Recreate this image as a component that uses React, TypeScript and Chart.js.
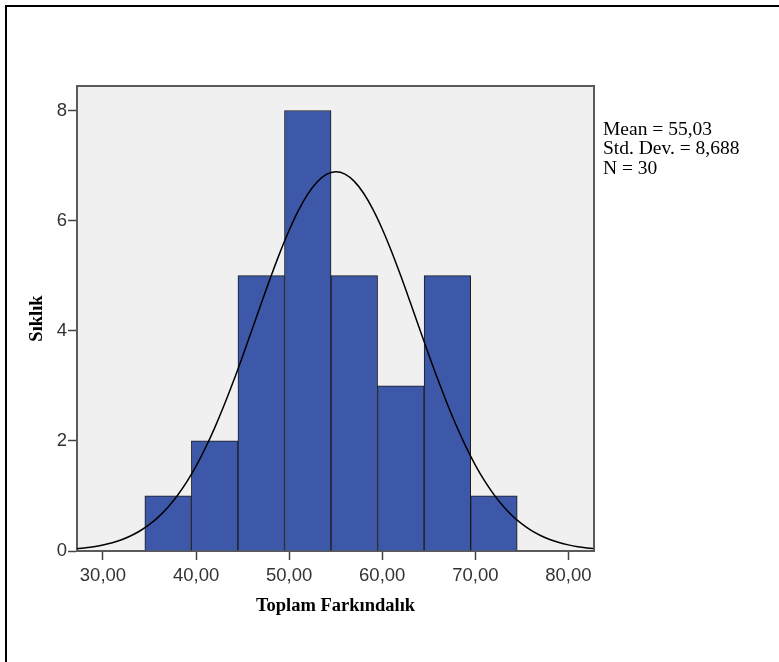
import React, { useEffect, useRef } from "react";
import { Chart, registerables } from "chart.js";

Chart.register(...registerables);

// Histogram bins (34.5–39.5, 39.5–44.5, ...) — centers and counts
const BIN_CENTERS = [37, 42, 47, 52, 57, 62, 67, 72];
const BIN_COUNTS = [1, 2, 5, 8, 5, 3, 5, 1];

// Normal curve (Mean 55,03, SD 8,688, N 30)
const CURVE_X = [
  27, 28, 29, 30, 31, 32, 33, 34, 35, 36, 37, 38, 39, 40, 41, 42, 43, 44, 45,
  46, 47, 48, 49, 50, 51, 52, 53, 54, 55, 56, 57, 58, 59, 60, 61, 62, 63, 64,
  65, 66, 67, 68, 69, 70, 71, 72, 73, 74, 75, 76, 77, 78, 79, 80, 81, 82, 83,
];
const CURVE_Y = [
  0.038, 0.055, 0.077, 0.109, 0.15, 0.205, 0.277, 0.368, 0.483, 0.625, 0.8,
  1.009, 1.256, 1.542, 1.87, 2.237, 2.641, 3.077, 3.538, 4.014, 4.494, 4.965,
  5.414, 5.825, 6.186, 6.482, 6.703, 6.84, 6.888, 6.845, 6.713, 6.497, 6.205,
  5.849, 5.44, 4.993, 4.522, 4.042, 3.566, 3.104, 2.666, 2.26, 1.891, 1.561,
  1.272, 1.023, 0.811, 0.635, 0.491, 0.374, 0.282, 0.209, 0.153, 0.111, 0.079,
  0.056, 0.039,
];

const X_TICKS = [30, 40, 50, 60, 70, 80];
const X_TICK_LABELS = ["30,00", "40,00", "50,00", "60,00", "70,00", "80,00"];
const Y_TICKS = [0, 2, 4, 6, 8];
const Y_TICK_LABELS = ["0", "2", "4", "6", "8"];

const X_MIN = 27.21;
const X_MAX = 82.75;
const Y_MAX = 8.445;

const X_TITLE = "Toplam Farkındalık";
const Y_TITLE = "Sıklık";
const STATS = ["Mean = 55,03", "Std. Dev. = 8,688", "N = 30"];

const plotFrame = {
  id: "plotFrame",
  beforeDraw(chart: any) {
    const { ctx, chartArea } = chart;
    const { left, top, right, bottom } = chartArea;
    ctx.save();
    ctx.fillStyle = "#F0F0F0";
    ctx.fillRect(left, top, right - left, bottom - top);
    ctx.restore();
  },
  afterDraw(chart: any) {
    const { ctx, chartArea } = chart;
    const { left, top, right, bottom } = chartArea;
    ctx.save();
    ctx.strokeStyle = "#5a5a5a";
    ctx.lineWidth = 2;
    ctx.beginPath();
    ctx.moveTo(left, top);
    ctx.lineTo(right, top);
    ctx.lineTo(right, bottom);
    ctx.stroke();
    ctx.restore();
  },
};

export default function App() {
  const canvasRef = useRef<HTMLCanvasElement | null>(null);

  useEffect(() => {
    const canvas = canvasRef.current;
    if (!canvas) return;
    const tickFont = { family: "'Liberation Sans', Arial, sans-serif", size: 18.5 };
    const titleFont = {
      family: "'Liberation Serif', 'Times New Roman', serif",
      size: 18.5,
      weight: "bold" as const,
      lineHeight: 1,
    };
    const chart = new Chart(canvas, {
      type: "bar",
      data: {
        datasets: [
          {
            type: "line" as const,
            data: CURVE_X.map((x, i) => ({ x, y: CURVE_Y[i] })),
            borderColor: "#000000",
            borderWidth: 1.5,
            pointRadius: 0,
            tension: 0.4,
            fill: false,
            order: 0,
            clip: 0 as any,
          },
          {
            type: "bar" as const,
            data: BIN_CENTERS.map((x, i) => ({ x, y: BIN_COUNTS[i] })),
            backgroundColor: "#3D57A9",
            borderColor: "#1c1c1c",
            borderWidth: 1,
            barPercentage: 1,
            categoryPercentage: 1,
            grouped: false,
            order: 1,
          } as any,
        ],
      },
      options: {
        animation: false,
        responsive: false,
        maintainAspectRatio: false,
        devicePixelRatio: 1,
        layout: { padding: { left: 0, top: 86, right: 185, bottom: 0 } },
        plugins: {
          legend: { display: false },
          tooltip: { enabled: false },
          title: { display: false },
        },
        scales: {
          x: {
            type: "linear",
            min: X_MIN,
            max: X_MAX,
            offset: false,
            afterBuildTicks: (s: any) => {
              s.ticks = X_TICKS.map((v) => ({ value: v }));
            },
            afterFit: (s: any) => {
              s.height = 111;
            },
            ticks: {
              font: tickFont,
              color: "#333333",
              padding: 5,
              maxRotation: 0,
              autoSkip: false,
              callback: (v: any) => {
                const i = X_TICKS.indexOf(Number(v));
                return i >= 0 ? X_TICK_LABELS[i] : "";
              },
            },
            grid: {
              offset: false,
              drawOnChartArea: false,
              drawTicks: true,
              tickLength: 9,
              tickColor: "#444444",
              tickWidth: 1.5,
            },
            border: { display: true, color: "#5a5a5a", width: 2 },
            title: {
              display: true,
              text: X_TITLE,
              color: "#000000",
              font: titleFont,
              padding: { top: 0, bottom: 47 },
            },
          },
          y: {
            type: "linear",
            min: 0,
            max: Y_MAX,
            afterBuildTicks: (s: any) => {
              s.ticks = Y_TICKS.map((v) => ({ value: v }));
            },
            afterFit: (s: any) => {
              s.width = 77;
            },
            ticks: {
              font: tickFont,
              color: "#333333",
              padding: 1,
              autoSkip: false,
              callback: (v: any) => {
                const i = Y_TICKS.indexOf(Number(v));
                return i >= 0 ? Y_TICK_LABELS[i] : "";
              },
            },
            grid: {
              offset: false,
              drawOnChartArea: false,
              drawTicks: true,
              tickLength: 9,
              tickColor: "#444444",
              tickWidth: 1.5,
            },
            border: { display: true, color: "#5a5a5a", width: 2 },
            title: {
              display: true,
              text: Y_TITLE,
              color: "#000000",
              font: titleFont,
              padding: { top: 28, bottom: 0 },
            },
          },
        },
      },
      plugins: [plotFrame],
    } as any);
    return () => chart.destroy();
  }, []);

  return (
    <div
      style={{
        position: "absolute",
        left: 0,
        top: 0,
        width: 779,
        height: 662,
        background: "#ffffff",
        overflow: "hidden",
      }}
    >
      <canvas
        ref={canvasRef}
        width={779}
        height={662}
        style={{ position: "absolute", left: 0, top: 0, width: 779, height: 662 }}
      />
      <div
        style={{
          position: "absolute",
          left: 5,
          top: 5,
          width: 780,
          height: 670,
          borderTop: "2px solid #000",
          borderLeft: "2px solid #000",
          pointerEvents: "none",
        }}
      />
      <div
        style={{
          position: "absolute",
          left: 603,
          top: 118.7,
          fontFamily: "'Liberation Serif', 'Times New Roman', serif",
          fontSize: 19.5,
          lineHeight: "19.5px",
          color: "#000",
          whiteSpace: "nowrap",
        }}
      >
        {STATS.map((s) => (
          <div key={s}>{s}</div>
        ))}
      </div>
    </div>
  );
}
